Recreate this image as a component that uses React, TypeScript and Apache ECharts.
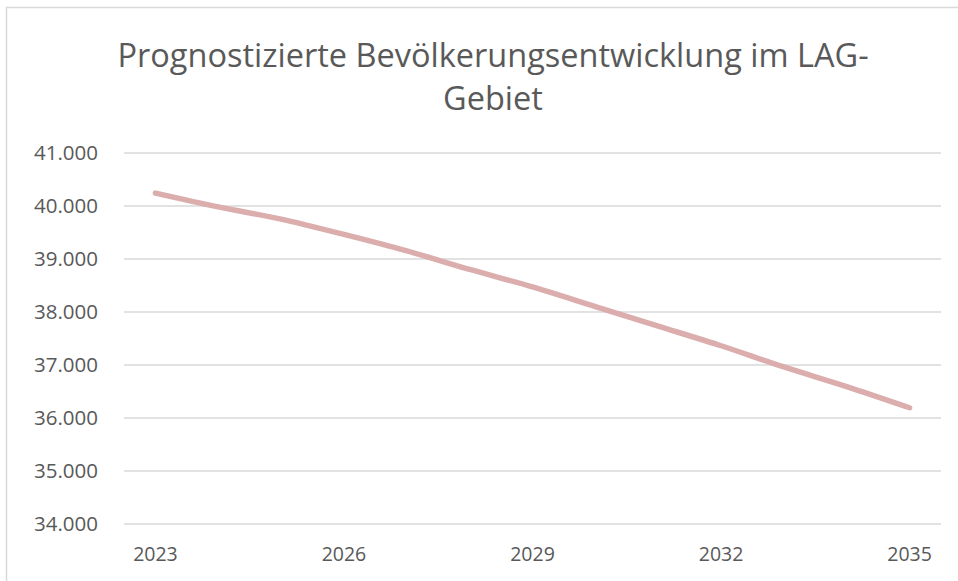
import React, { useEffect, useRef } from "react";
import * as echarts from "echarts";

const titleText = "Prognostizierte Bevölkerungsentwicklung im LAG-\nGebiet";
const years = ["2023", "2024", "2025", "2026", "2027", "2028", "2029", "2030", "2031", "2032", "2033", "2034", "2035"];
const population = [40230, 39970, 39740, 39450, 39140, 38790, 38460, 38090, 37720, 37350, 36950, 36580, 36180];
const yMin = 34000;
const yMax = 41000;
const yStep = 1000;

const fmt = (v: number) => {
  const s = Math.round(v).toString();
  return s.replace(/\B(?=(\d{3})+(?!\d))/g, ".");
};

export default function App() {
  const ref = useRef<HTMLDivElement>(null);
  useEffect(() => {
    if (!ref.current) return;
    const chart = echarts.init(ref.current, null, { renderer: "svg" });
    chart.setOption({
      animation: false,
      backgroundColor: "#ffffff",
      title: {
        text: titleText,
        left: 488,
        top: 28,
        textAlign: "center",
        textStyle: {
          fontFamily: "Open Sans",
          fontSize: 32.5,
          fontWeight: "normal",
          color: "#595959",
          lineHeight: 43,
        },
      },
      graphic: [
        {
          type: "rect",
          shape: { x: 6.5, y: 7.5, width: 960, height: 580 },
          style: { fill: "none", stroke: "#d9d9d9", lineWidth: 1.5 },
          silent: true,
        },
      ],
      grid: { left: 124, right: 17, top: 152.3, bottom: 57.7, containLabel: false },
      xAxis: {
        type: "category",
        data: years,
        boundaryGap: true,
        axisLine: { show: false },
        axisTick: { show: false },
        axisLabel: {
          interval: 2,
          margin: 20,
          fontFamily: "Open Sans",
          fontSize: 19.5,
          color: "#595959",
        },
        splitLine: { show: false },
      },
      yAxis: {
        type: "value",
        min: yMin,
        max: yMax,
        interval: yStep,
        axisLine: { show: false },
        axisTick: { show: false },
        axisLabel: {
          margin: 26,
          fontFamily: "Open Sans",
          fontSize: 20.5,
          color: "#595959",
          formatter: (v: number) => fmt(v),
        },
        splitLine: { lineStyle: { color: "#d9d9d9", width: 1.5 } },
      },
      series: [
        {
          type: "line",
          data: population,
          smooth: 0.3,
          showSymbol: false,
          symbol: "none",
          lineStyle: { color: "#dbadad", width: 5.5, cap: "round" },
        },
      ],
    });
    return () => chart.dispose();
  }, []);
  return (
    <div
      ref={ref}
      style={{ position: "fixed", left: 0, top: 0, width: 958, height: 581 }}
    />
  );
}
